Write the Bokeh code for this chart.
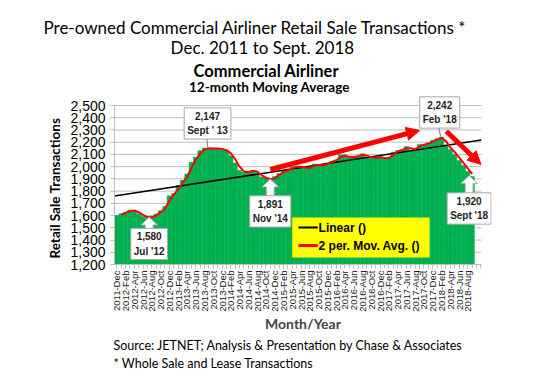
import numpy as np
from bokeh.plotting import figure
from bokeh.models import (Range1d, FixedTicker, NumeralTickFormatter, Label,
                          Arrow, NormalHead, Title)
from bokeh.core.properties import value
from bokeh.embed import file_html
from bokeh.resources import INLINE

# ---------------- data ----------------
# monthly values, 2011-Dec .. 2018-Sep (82 months)
transactions = [
    1600, 1615, 1628, 1645, 1640, 1615, 1595, 1580, 1592, 1612, 1640, 1675,
    1762, 1780, 1845, 1888, 1940, 2035, 2078, 2130, 2152, 2147, 2150, 2148,
    2140, 2130, 2090, 2030, 1970, 1952, 1958, 1972, 1948, 1915, 1905, 1891,
    1920, 1945, 1960, 1980, 1995, 2003, 1995, 1990, 1992, 2022, 2008, 2012,
    2030, 2045, 2055, 2098, 2085, 2075, 2082, 2088, 2105, 2078, 2075, 2072,
    2080, 2062, 2075, 2118, 2130, 2138, 2165, 2135, 2150, 2182, 2178, 2195,
    2215, 2228, 2242, 2175, 2140, 2100, 2050, 2010, 1960, 1920,
]
tick_labels = [
    "2011-Dec", "2012-Feb", "2012-Apr", "2012-Jun", "2012-Aug", "2012-Oct",
    "2012-Dec", "2013-Feb", "2013-Apr", "2013-Jun", "2013-Aug", "2013-Oct",
    "2013-Dec", "2014-Feb", "2014-Apr", "2014-Jun", "2014-Aug", "2014-Oct",
    "2014-Dec", "2015-Feb", "2015-Apr", "2015-Jun", "2015-Aug", "2015-Oct",
    "2015-Dec", "2016-Feb", "2016-Apr", "2016-Jun", "2016-Aug", "2016-Oct",
    "2016-Dec", "2017-Feb", "2017-Apr", "2017-Jun", "2017-Aug", "2017-Oct",
    "2017-Dec", "2018-Feb", "2018-Apr", "2018-Jun", "2018-Aug",
]
y_ticks = list(range(1200, 2501, 100))
legend_labels = ["Linear ()", "2 per. Mov. Avg. ()"]
# callouts: (text, month index, value) -- marked points
callouts = [
    ("2,147\nSept ' 13", 21, 2147),
    ("1,580\nJul '12", 7, 1580),
    ("1,891\nNov '14", 35, 1891),
    ("2,242\nFeb '18", 74, 2242),
    ("1,920\nSept '18", 81, 1920),
]

# ---------------- figure ----------------
W, H = 548, 383
X0, X1 = -0.5, 83.1          # chart plot-area extent (months)
p = figure(width=W, height=H, output_backend="svg", toolbar_location=None,
           x_range=Range1d(X0, 85.4), y_range=Range1d(1200, 3056),
           min_border_left=114, min_border_right=57, min_border_top=37,
           min_border_bottom=119)
p.outline_line_color = None
p.background_fill_color = "white"
p.border_fill_color = "white"

idx = np.arange(len(transactions))
vals = np.array(transactions, dtype=float)

# grid lines limited to the plot area
p.segment(x0=[X0] * len(y_ticks), y0=y_ticks, x1=[X1] * len(y_ticks), y1=y_ticks,
          line_color="#BFBFBF", line_width=1, level="underlay")

p.vbar(x=idx, top=vals, bottom=1200, width=1.0, fill_color="#00B050",
       line_color="#00B050", line_width=0.5)

# linear trend
coef = np.polyfit(idx, vals, 1)
tx = np.array([X0, X1])
trend = p.line(tx, np.polyval(coef, tx), line_color="black", line_width=1.6)

# 2 period moving average
ma_x = idx[1:]
ma_y = (vals[1:] + vals[:-1]) / 2.0
ma = p.line(ma_x, ma_y, line_color="#FF0000", line_width=2)

# axes
p.yaxis.ticker = FixedTicker(ticks=y_ticks)
p.yaxis.bounds = (1200, 2500)
p.yaxis.formatter = NumeralTickFormatter(format="0,0")
p.yaxis.major_label_text_font = "Liberation Sans"
p.yaxis.major_label_text_font_size = "14px"
p.yaxis.major_label_text_color = "black"
p.yaxis.axis_line_color = "#BFBFBF"
p.yaxis.major_tick_line_color = "#BFBFBF"
p.yaxis.major_tick_out = 4
p.yaxis.major_tick_in = 0
p.yaxis.minor_tick_line_color = None

even = list(range(0, 82, 2))
p.xaxis.ticker = FixedTicker(ticks=even, minor_ticks=list(range(0, 84)))
p.xaxis.bounds = (X0, X1)
p.xaxis.major_label_overrides = {i: lab for i, lab in zip(even, tick_labels)}
p.xaxis.major_label_orientation = np.pi / 2
p.xaxis.major_label_text_font = "Liberation Sans"
p.xaxis.major_label_text_font_size = "9.5px"
p.xaxis.major_label_text_color = "#222222"
p.xaxis.major_label_standoff = 2
p.xaxis.axis_line_color = "#BFBFBF"
p.xaxis.major_tick_line_color = "#BFBFBF"
p.xaxis.minor_tick_line_color = "#BFBFBF"
p.xaxis.major_tick_out = 4
p.xaxis.major_tick_in = 0
p.xaxis.minor_tick_out = 4
p.xaxis.minor_tick_in = 0
p.xaxis.axis_label = "Month/Year"
p.xaxis.axis_label_text_font = "Lato"
p.xaxis.axis_label_text_font_style = "bold"
p.xaxis.axis_label_text_font_size = "14px"
p.xaxis.axis_label_standoff = 0

p.xgrid.grid_line_color = None
p.ygrid.grid_line_color = None

# y axis title, placed along the 1,200-2,500 span
p.add_layout(Title(text="Retail Sale Transactions", align="left", offset=6,
                   text_font="Lato", text_font_style="bold", text_font_size="13.5px",
                   text_color="black", standoff=10), "left")

# legend box (yellow) with line samples
lg_x0, lg_x1, lg_y0, lg_y1 = 40.0, 71.3, 1257, 1584
p.quad(left=lg_x0, right=lg_x1, bottom=lg_y0, top=lg_y1, fill_color="#FFFF00",
       line_color=None)
row_y = [1502, 1355]
p.segment(x0=[41.4], y0=[row_y[0]], x1=[45.8], y1=[row_y[0]], line_color="black",
          line_width=2)
p.segment(x0=[41.4], y0=[row_y[1]], x1=[45.8], y1=[row_y[1]], line_color="#FF0000",
          line_width=3)
p.text(x=[46.0, 46.0], y=row_y, text=legend_labels, text_align="left",
       text_baseline="middle", text_font=value("Liberation Sans"),
       text_font_style="bold", text_font_size="12px", text_color="black")

# big red trend arrows
head = dict(size=13, fill_color="#FF0000", line_color="#FF0000")
p.add_layout(Arrow(x_start=35.0, y_start=1977, x_end=69.0, y_end=2296,
                   line_color="#FF0000", line_width=5, end=NormalHead(**head)))
p.add_layout(Arrow(x_start=75.1, y_start=2290, x_end=83.0, y_end=2018,
                   line_color="#FF0000", line_width=5, end=NormalHead(**head)))

# callout boxes: (box centre x, box centre y, pointer type)
box_pos = [(20.7, 2353, "line"), (7.4, 1368, "up"), (35.0, 1634, "up"),
           (73.6, 2443, "line"), (80.3, 1658, "up")]
box_half_h = 122  # value units (~15 px)
for (txt, mi, mv), (bx, by, kind) in zip(callouts, box_pos):
    if kind == "line":
        p.segment(x0=bx - 0.2, y0=by - box_half_h, x1=mi - 0.2, y1=mv + 5,
                  line_color="#7F7F7F", line_width=1)
    else:
        tip_y = mv + 8
        base_y = by + 110
        hx, sx = 1.9, 0.9
        head_y = tip_y - 65
        p.patch([bx, bx + hx, bx + sx, bx + sx, bx - sx, bx - sx, bx - hx],
                [tip_y, head_y, head_y, base_y, base_y, head_y, head_y],
                fill_color="white", line_color="#A6A6A6", line_width=1)
    p.add_layout(Label(x=bx, y=by, text=txt, text_align="center",
                       text_baseline="middle", text_font="Liberation Sans",
                       text_font_style="bold", text_font_size="10px",
                       text_color="#222222", text_line_height=1.3,
                       background_fill_color="white", background_fill_alpha=1,
                       border_line_color="#A6A6A6", border_line_width=1,
                       padding=3))

# titles placed inside the drawing area
def inner(text, x, y, size, style):
    p.add_layout(Label(x=x, y=y, text=text, text_align="center",
                       text_baseline="middle", text_font="Lato",
                       text_font_style=style, text_font_size=size, text_color="black"))

inner("Dec. 2011 to Sept. 2018", 33.2, 2974, "17px", "normal")
inner("Commercial Airliner", 34.1, 2779, "16.5px", "bold")
inner("12-month Moving Average", 34.8, 2648, "13.5px", "bold")

# page title (above) and notes (below)
def title(text, offset, size, standoff):
    return Title(text=text, align="left", offset=offset, text_font="Lato",
                 text_font_size=size, text_font_style="normal", text_color="black",
                 standoff=standoff)

p.add_layout(title("Pre-owned Commercial Airliner Retail Sale Transactions *", -71, "17px", 0), "above")
p.add_layout(title("Source: JETNET; Analysis & Presentation by Chase & Associates", -1, "12.5px", 2), "below")
p.add_layout(title("* Whole Sale and Lease Transactions", -1, "12.5px", 1), "below")

open("out.html", "w").write(file_html(p, INLINE))
